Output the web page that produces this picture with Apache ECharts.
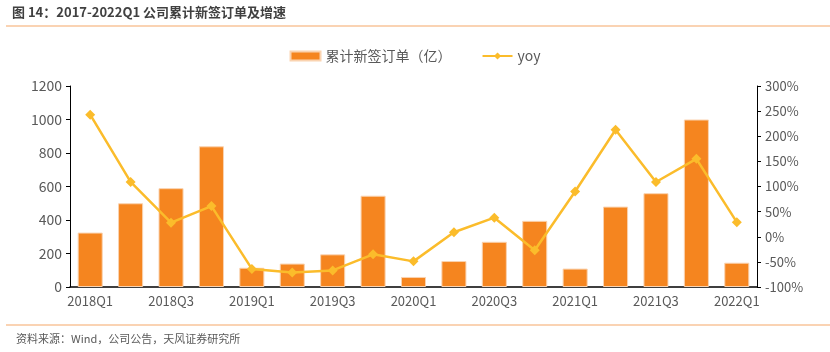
<!DOCTYPE html>
<html>
<head>
<meta charset="utf-8">
<script src="https://cdn.jsdelivr.net/npm/echarts@6/dist/echarts.min.js"></script>
<style>
  html, body { margin: 0; padding: 0; background: #fff; }
  #chart { width: 830px; height: 352px; }
</style>
</head>
<body>
<div id="chart"></div>
<script>
var quarters = ['2018Q1', '2018Q2', '2018Q3', '2018Q4', '2019Q1', '2019Q2', '2019Q3', '2019Q4',
  '2020Q1', '2020Q2', '2020Q3', '2020Q4', '2021Q1', '2021Q2', '2021Q3', '2021Q4', '2022Q1'];
var orders = [325, 500, 590, 840, 115, 140, 195, 545, 60, 155, 270, 395, 110, 480, 560, 1000, 145];
var yoy = [243, 109, 28, 61, -64, -71, -67, -35, -49, 9, 38, -27, 90, 213, 109, 155, 29];

var chartDom = document.getElementById('chart');
var myChart = echarts.init(chartDom);

var textFont = '"Noto Sans CJK SC", "Liberation Sans", sans-serif';

var option = {
  animation: false,
  textStyle: { fontFamily: textFont },
  graphic: [
    {
      type: 'text', left: 12, top: 6,
      style: { text: '图 14：2017-2022Q1 公司累计新签订单及增速', fontSize: 13, fontWeight: 'bold', fill: '#404040', fontFamily: textFont }
    },
    { type: 'line', shape: { x1: 6, y1: 26, x2: 830, y2: 26 }, style: { stroke: '#F8C49A', lineWidth: 1.5 } },
    { type: 'line', shape: { x1: 6, y1: 325, x2: 830, y2: 325 }, style: { stroke: '#F8C49A', lineWidth: 1.5 } },
    {
      type: 'text', left: 16, top: 333,
      style: { text: '资料来源：Wind，公司公告，天风证券研究所', fontSize: 11, fill: '#595959', fontFamily: textFont }
    }
  ],
  legend: {
    top: 44,
    left: 'center',
    itemGap: 30,
    itemWidth: 30,
    itemHeight: 9,
    textStyle: { fontSize: 14, color: '#595959' },
    data: [
      { name: '累计新签订单（亿）', icon: 'rect' },
      { name: 'yoy' }
    ]
  },
  grid: { left: 70, right: 73, top: 86, bottom: 65 },
  xAxis: {
    type: 'category',
    data: quarters,
    axisLine: { lineStyle: { color: '#000', width: 1.5 } },
    axisTick: { show: false },
    axisLabel: { interval: 1, color: '#595959', fontSize: 13, margin: 8 }
  },
  yAxis: [
    {
      type: 'value', min: 0, max: 1200, interval: 200,
      axisLine: { show: true, lineStyle: { color: '#000' } },
      axisTick: { show: true, length: 4, lineStyle: { color: '#000' } },
      splitLine: { show: false },
      axisLabel: { color: '#595959', fontSize: 14, margin: 8, formatter: function (v) { return String(v); } }
    },
    {
      type: 'value', min: -100, max: 300, interval: 50,
      axisLine: { show: true, lineStyle: { color: '#000' } },
      axisTick: { show: true, length: 4, lineStyle: { color: '#000' } },
      splitLine: { show: false },
      axisLabel: { color: '#595959', fontSize: 13, margin: 8, formatter: '{value}%' }
    }
  ],
  series: [
    {
      name: '累计新签订单（亿）',
      type: 'bar',
      data: orders,
      barWidth: '62%',
      itemStyle: { color: '#F5851F', borderColor: '#FAD3B0', borderWidth: 1 }
    },
    {
      name: 'yoy',
      type: 'line',
      yAxisIndex: 1,
      data: yoy,
      symbol: 'diamond',
      symbolSize: 10,
      lineStyle: { color: '#FBBC2B', width: 2.5 },
      itemStyle: { color: '#FBBC2B' }
    }
  ]
};

myChart.setOption(option);

window.onresize = () => {
  myChart.resize();
}
</script>
</body>
</html>
